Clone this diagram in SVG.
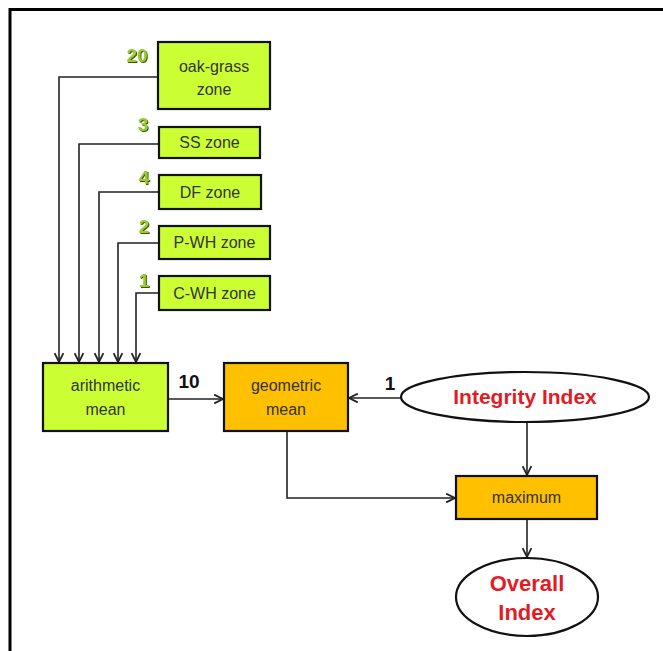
<svg xmlns="http://www.w3.org/2000/svg" width="663" height="651" viewBox="0 0 663 651">
<style>
.g{fill:#ccff33;stroke:#111;stroke-width:2.2}
.o{fill:#ffc000;stroke:#111;stroke-width:2.2}
.e{fill:#fff;stroke:#111;stroke-width:2.2}
.t{font-family:"Liberation Sans",Arial,sans-serif;font-size:16px;fill:#333;text-anchor:middle}
.r{font-family:"Liberation Sans",Arial,sans-serif;font-size:21px;font-weight:bold;fill:#e31b23;text-anchor:middle}
.n{font-family:"Liberation Sans",Arial,sans-serif;font-size:19px;font-weight:bold;fill:#99cc33;text-anchor:middle;filter:url(#sh)}
.k{font-family:"Liberation Sans",Arial,sans-serif;font-size:19px;font-weight:bold;fill:#111;text-anchor:middle}
.c{fill:none;stroke:#222;stroke-width:1.6}
</style>
<defs>
<filter id="sh" x="-20%" y="-20%" width="150%" height="150%">
<feDropShadow dx="1" dy="1" stdDeviation="0.3" flood-color="#3d5200"/>
</filter>
<marker id="a" viewBox="0 0 10 10" refX="9" refY="5" markerWidth="11" markerHeight="11" orient="auto" markerUnits="userSpaceOnUse">
<path d="M1,1 L9,5 L1,9" fill="none" stroke="#222" stroke-width="1.6"/>
</marker>
</defs>
<rect width="663" height="651" fill="#fff"/>
<path d="M10,651 V9.5 H663" fill="none" stroke="#000" stroke-width="3"/>
<g id="connectors">
<path class="c" d="M158,77 H59 V362" marker-end="url(#a)"/>
<path class="c" d="M159,144 H79 V362" marker-end="url(#a)"/>
<path class="c" d="M159,192 H99 V362" marker-end="url(#a)"/>
<path class="c" d="M159,243 H118 V362" marker-end="url(#a)"/>
<path class="c" d="M159,293 H136 V362" marker-end="url(#a)"/>
<path class="c" d="M168,399 H223" marker-end="url(#a)"/>
<path class="c" d="M401,398 H349" marker-end="url(#a)"/>
<path class="c" d="M287,431 V498 H455" marker-end="url(#a)"/>
<path class="c" d="M527,422 V475" marker-end="url(#a)"/>
<path class="c" d="M527,519 V557" marker-end="url(#a)"/>
<text class="k" x="189" y="388">10</text>
<text class="k" x="390" y="390">1</text>
</g>
<g id="oak">
<rect class="g" x="158" y="42" width="112" height="67"/>
<text class="t" x="214" y="72">oak-grass</text>
<text class="t" x="214" y="95">zone</text>
<text class="n" x="137" y="62">20</text>
</g>
<g id="ss">
<rect class="g" x="159" y="127" width="101" height="31"/>
<text class="t" x="209.5" y="148">SS zone</text>
<text class="n" x="143" y="131">3</text>
</g>
<g id="df">
<rect class="g" x="159" y="175" width="102" height="34"/>
<text class="t" x="210" y="198">DF zone</text>
<text class="n" x="144" y="184">4</text>
</g>
<g id="pwh">
<rect class="g" x="159" y="226" width="111" height="33"/>
<text class="t" x="214.5" y="248">P-WH zone</text>
<text class="n" x="144" y="233">2</text>
</g>
<g id="cwh">
<rect class="g" x="159" y="276" width="111" height="34"/>
<text class="t" x="214.5" y="299">C-WH zone</text>
<text class="n" x="144" y="287">1</text>
</g>
<g id="arith">
<rect class="g" x="43" y="363" width="125" height="68"/>
<text class="t" x="105.5" y="391">arithmetic</text>
<text class="t" x="105.5" y="415">mean</text>
</g>
<g id="geo">
<rect class="o" x="224" y="363" width="124" height="68"/>
<text class="t" x="286" y="391">geometric</text>
<text class="t" x="286" y="415">mean</text>
</g>
<g id="integrity">
<ellipse class="e" cx="525" cy="397" rx="124" ry="25"/>
<text class="r" x="525" y="404">Integrity Index</text>
</g>
<g id="max">
<rect class="o" x="456" y="476" width="141" height="43"/>
<text class="t" x="526.5" y="503">maximum</text>
</g>
<g id="overall">
<ellipse class="e" cx="527" cy="597" rx="71" ry="39"/>
<text class="r" x="527" y="591" style="font-size:22px">Overall</text>
<text class="r" x="527" y="620" style="font-size:22px">Index</text>
</g>
</svg>
